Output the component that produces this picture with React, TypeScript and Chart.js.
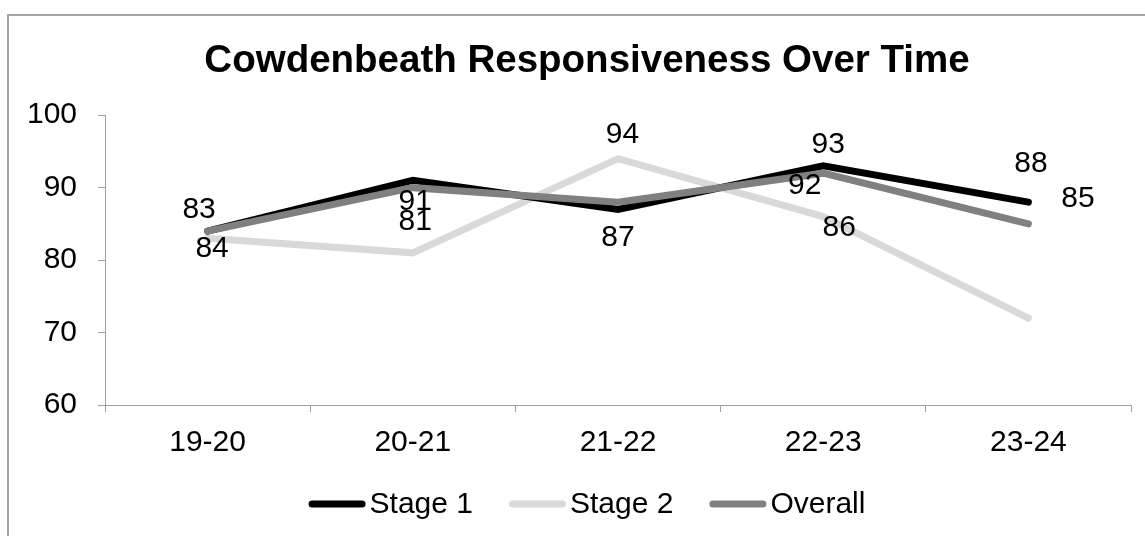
import React, { useEffect, useRef } from "react";
import { Chart, registerables } from "chart.js";

Chart.register(...registerables);

const titleText = "Cowdenbeath Responsiveness Over Time";
const categories = ["19-20", "20-21", "21-22", "22-23", "23-24"];
const stage1 = [84, 91, 87, 93, 88];
const stage2 = [83, 81, 94, 86, 72];
const overall = [84, 90, 88, 92, 85];
const yTicks = [60, 70, 80, 90, 100];
const seriesNames = ["Stage 1", "Stage 2", "Overall"];

const FONT = '"Liberation Sans", Arial, sans-serif';
const COLORS = ["#000000", "#d9d9d9", "#808080"];
const AXIS = "#a0a0a0";

// label placement offsets (pixels from the point), null = label hidden
const labelOffsets: ([number, number] | null)[][] = [
  [[4.5, 18], [2.5, 21], [0, 28], [5, -21], [2.5, -38]],
  [[-8.5, -29], [2.5, -31], [4.5, -24], [16, 11], null],
  [null, null, null, [-18.5, 12.5], [49.5, -25]],
];

const dataLabelPlugin = {
  id: "dataLabels",
  afterDatasetsDraw(chart: any) {
    const ctx = chart.ctx;
    ctx.save();
    ctx.font = `30px ${FONT}`;
    ctx.fillStyle = "#000";
    ctx.textAlign = "center";
    ctx.textBaseline = "middle";
    chart.data.datasets.forEach((ds: any, i: number) => {
      const meta = chart.getDatasetMeta(i);
      meta.data.forEach((pt: any, j: number) => {
        const off = labelOffsets[i][j];
        if (!off) return;
        ctx.fillText(String(ds.data[j]), pt.x + off[0], pt.y + off[1]);
      });
    });
    ctx.restore();
  },
};

const legendPlugin = {
  id: "customLegend",
  afterDraw(chart: any) {
    const ctx = chart.ctx;
    ctx.save();
    ctx.font = `30px ${FONT}`;
    const lineW = 57;
    const gap = 4;
    const itemGap = 36;
    const widths = chart.data.datasets.map(
      (ds: any) => lineW + gap + ctx.measureText(ds.label).width
    );
    const total =
      widths.reduce((a: number, b: number) => a + b, 0) + itemGap * (widths.length - 1);
    let x = chart.width / 2 - total / 2;
    const y = 488;
    chart.data.datasets.forEach((ds: any, i: number) => {
      ctx.strokeStyle = ds.borderColor;
      ctx.lineWidth = 7;
      ctx.lineCap = "round";
      ctx.beginPath();
      ctx.moveTo(x + 3.5, y);
      ctx.lineTo(x + lineW - 3.5, y);
      ctx.stroke();
      ctx.fillStyle = "#000";
      ctx.textAlign = "left";
      ctx.textBaseline = "middle";
      ctx.fillText(ds.label, x + lineW + gap, y + 1);
      x += widths[i] + itemGap;
    });
    ctx.restore();
  },
};

export default function App() {
  const ref = useRef<HTMLCanvasElement | null>(null);

  useEffect(() => {
    if (!ref.current) return;
    const series = [stage1, stage2, overall];
    const orders = [1, 2, 0];
    const chart = new Chart(ref.current, {
      type: "line",
      data: {
        labels: categories,
        datasets: series.map((d, i) => ({
          label: seriesNames[i],
          data: d,
          borderColor: COLORS[i],
          backgroundColor: COLORS[i],
          borderWidth: 7,
          pointRadius: 0,
          pointHoverRadius: 0,
          tension: 0,
          fill: false,
          borderCapStyle: "round",
          borderJoinStyle: "miter",
          order: orders[i],
          yAxisID: "y",
        })),
      },
      options: {
        responsive: false,
        animation: false,
        events: [],
        layout: { padding: { left: 0, right: 0, top: 0, bottom: 73 } },
        plugins: {
          legend: { display: false },
          tooltip: { enabled: false },
          title: {
            display: true,
            text: titleText,
            color: "#000",
            font: { family: FONT, size: 38.5, weight: "bold", lineHeight: 1.2 },
            padding: { top: 22, bottom: 31 },
          },
        },
        scales: {
          x: {
            type: "category",
            offset: true,
            grid: {
              offset: true,
              drawOnChartArea: false,
              drawTicks: true,
              tickLength: 7,
              color: AXIS,
              lineWidth: 1,
            },
            border: { display: true, color: AXIS, width: 1 },
            ticks: {
              color: "#000",
              font: { family: FONT, size: 30, lineHeight: 1.2 },
              padding: 13,
              maxRotation: 0,
              autoSkip: false,
            },
            afterFit: (s: any) => {
              s.height = 60;
            },
          },
          y: {
            type: "linear",
            position: "left",
            min: 60,
            max: 100,
            afterBuildTicks: (s: any) => {
              s.ticks = yTicks.map((v) => ({ value: v }));
            },
            grid: {
              drawOnChartArea: false,
              drawTicks: true,
              tickLength: 7,
              color: AXIS,
              lineWidth: 1,
            },
            border: { display: true, color: AXIS, width: 1 },
            ticks: {
              color: "#000",
              font: { family: FONT, size: 30, lineHeight: 1.2 },
              padding: 21,
            },
            afterFit: (s: any) => {
              s.width = 96;
            },
          },
          yRight: {
            type: "linear",
            position: "right",
            min: 60,
            max: 100,
            grid: { display: false, drawTicks: false },
            border: { display: false },
            ticks: { display: false },
            afterFit: (s: any) => {
              s.width = 34;
            },
          },
        },
      },
      plugins: [dataLabelPlugin, legendPlugin],
    } as any);
    return () => chart.destroy();
  }, []);

  return (
    <div
      style={{
        position: "fixed",
        left: 0,
        top: 0,
        width: 1145,
        height: 536,
        overflow: "hidden",
        background: "#fff",
      }}
    >
      <div
        style={{
          position: "absolute",
          left: 7,
          top: 14,
          width: 1156,
          height: 522,
          borderTop: "2px solid #a6a6a6",
          borderLeft: "2px solid #a6a6a6",
        }}
      >
        <canvas ref={ref} width={1156} height={522} style={{ display: "block" }} />
      </div>
    </div>
  );
}
